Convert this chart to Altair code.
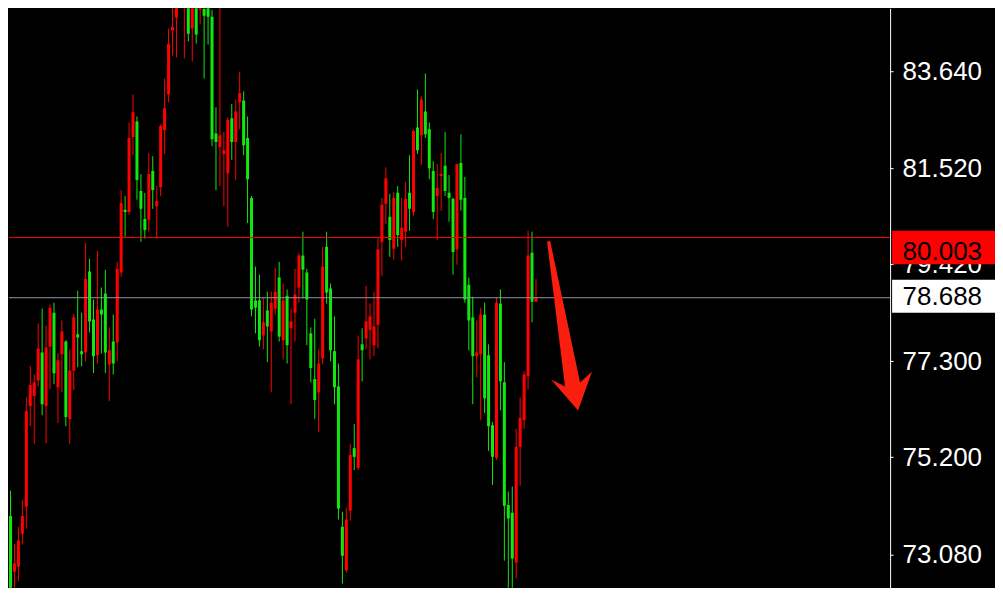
import altair as alt
import pandas as pd

# Candle OHLC values (index 0 = leftmost candle)
open_ = [75.56, 73.92, 72.70, 72.81, 73.53, 74.12, 76.32, 76.54, 76.88, 77.49,
         76.32, 77.62, 78.36, 76.73, 77.45, 77.73, 76.04, 77.10, 77.89, 77.52,
         77.49, 79.26, 78.21, 77.43, 78.43, 78.78, 77.23, 77.73, 77.71, 79.24,
         80.61, 80.56, 82.20, 82.54, 81.02, 80.41, 80.39, 81.46, 80.69, 81.11,
         82.35, 83.13, 84.53, 84.81, 85.51, 85.35, 85.29, 84.57, 85.27, 84.98,
         85.00, 85.22, 84.83, 82.28, 81.98, 81.83, 81.41, 82.61, 82.09, 82.96,
         83.00, 82.18, 80.87, 78.63, 78.63, 77.86, 78.41, 77.95, 78.45, 79.13,
         77.76, 78.73, 78.02, 78.36, 78.91, 79.61, 79.24, 77.91, 76.91, 76.62,
         77.36, 79.80, 78.89, 77.52, 76.75, 73.68, 72.73, 74.03, 75.40, 74.97,
         77.67, 77.80, 77.99, 77.65, 78.10, 79.91, 80.74, 80.46, 79.76, 80.98,
         79.95, 80.13, 80.98, 80.56, 82.41, 82.24, 82.76, 82.37, 81.46, 80.91,
         81.35, 81.57, 80.98, 80.85, 79.74, 81.63, 80.87, 78.97, 78.26, 77.41,
         77.45, 78.32, 77.43, 75.90, 75.19, 78.56, 76.84, 74.16, 73.99, 72.90,
         75.43, 76.01, 76.97, 79.67, 78.60]
close = [73.81, 72.29, 72.88, 73.38, 73.92, 76.21, 76.78, 76.84, 77.58, 76.36,
         77.60, 78.47, 77.04, 77.32, 77.95, 76.08, 77.10, 78.26, 77.82, 77.45,
         79.10, 78.17, 77.41, 78.43, 78.32, 77.49, 77.54, 77.25, 79.32, 80.76,
         80.56, 82.18, 82.74, 81.26, 80.63, 80.17, 81.39, 81.04, 80.80, 82.44,
         82.83, 84.24, 84.61, 85.29, 85.83, 85.61, 84.46, 85.24, 84.44, 85.09,
         84.85, 84.83, 82.15, 82.09, 82.24, 81.91, 82.57, 82.09, 82.76, 83.16,
         82.02, 81.28, 78.43, 78.47, 77.76, 78.15, 78.06, 78.58, 78.82, 77.84,
         78.63, 77.65, 78.17, 78.76, 79.61, 79.30, 78.65, 77.15, 76.45, 77.25,
         79.37, 78.80, 77.54, 76.73, 74.08, 73.05, 73.84, 75.25, 75.21, 77.34,
         77.54, 78.17, 78.28, 78.06, 79.74, 80.72, 81.30, 79.95, 80.87, 80.06,
         80.22, 80.85, 80.63, 82.33, 81.91, 83.02, 82.26, 81.52, 80.56, 81.09,
         81.39, 81.02, 80.87, 79.69, 81.61, 80.83, 78.65, 78.19, 77.41, 77.49,
         78.32, 76.49, 75.88, 75.21, 78.58, 76.86, 74.14, 73.86, 72.99, 75.43,
         76.06, 77.01, 79.61, 78.60, 78.69]
high = [76.78, 74.47, 73.31, 73.68, 74.27, 76.51, 77.19, 77.01, 78.13, 78.45,
        78.08, 78.54, 78.58, 77.47, 78.19, 77.76, 77.56, 78.34, 78.84, 78.36,
        79.89, 79.54, 78.65, 79.71, 78.91, 79.30, 78.04, 78.32, 79.47, 81.04,
        80.91, 82.52, 83.13, 82.65, 81.39, 80.98, 81.85, 81.78, 81.13, 82.48,
        83.48, 84.57, 85.29, 85.40, 86.05, 85.94, 85.51, 85.40, 85.44, 85.24,
        85.22, 85.35, 84.98, 82.85, 85.29, 82.31, 82.63, 82.92, 83.02, 83.63,
        83.20, 82.65, 80.91, 79.37, 79.19, 78.69, 78.82, 78.82, 79.34, 79.47,
        79.00, 78.87, 78.45, 79.32, 79.67, 80.13, 79.32, 78.04, 78.23, 77.56,
        79.80, 80.13, 79.00, 78.28, 77.25, 74.01, 74.10, 75.49, 75.93, 77.86,
        78.02, 78.95, 78.56, 78.82, 80.00, 80.87, 81.54, 80.96, 81.00, 81.13,
        80.87, 81.22, 81.80, 82.37, 83.24, 83.09, 83.59, 82.52, 81.67, 81.61,
        81.85, 82.31, 81.37, 80.87, 81.61, 82.26, 81.33, 79.13, 78.71, 78.19,
        78.47, 78.58, 77.67, 75.97, 78.69, 78.87, 77.28, 74.45, 74.56, 75.82,
        76.51, 77.08, 80.15, 80.13, 79.10]
low = [73.68, 72.01, 72.01, 72.49, 73.29, 73.64, 75.88, 75.49, 76.75, 76.12,
       75.51, 76.69, 76.80, 75.95, 76.62, 75.88, 75.49, 76.67, 77.17, 77.19,
       77.30, 77.93, 77.04, 77.25, 77.47, 77.04, 76.43, 77.01, 77.30, 79.15,
       80.02, 80.50, 81.80, 80.83, 79.91, 79.98, 80.13, 80.63, 79.98, 80.91,
       81.83, 82.96, 83.98, 83.94, 85.35, 83.92, 84.29, 83.85, 84.24, 84.66,
       83.48, 84.22, 82.00, 81.04, 81.13, 80.69, 80.24, 81.70, 81.26, 82.37,
       81.80, 80.32, 78.28, 77.91, 77.62, 77.56, 77.28, 76.62, 78.32, 77.73,
       77.34, 77.25, 76.36, 77.73, 78.58, 78.67, 77.65, 76.84, 76.04, 75.75,
       77.23, 78.56, 77.30, 76.36, 73.84, 72.44, 72.68, 73.81, 74.92, 74.92,
       76.86, 77.56, 77.34, 77.41, 77.58, 79.17, 80.30, 79.58, 79.52, 79.80,
       79.50, 79.80, 80.15, 80.48, 81.83, 81.59, 82.18, 81.28, 80.41, 79.95,
       80.59, 80.91, 80.35, 79.19, 79.41, 80.59, 78.58, 77.54, 76.36, 76.95,
       76.01, 76.17, 75.34, 74.60, 75.14, 76.23, 72.94, 72.01, 72.18, 72.55,
       74.58, 75.82, 76.69, 78.15, 78.60]

tick_values = [73.08, 75.20, 77.30, 79.42, 81.52, 83.64]
line_prices = [80.003, 78.688]
line_labels = ["80.003", "78.688"]

# label boxes (top, bottom, text baseline) in price units
box_top = [80.15, 79.08]
box_bottom = [79.42, 78.36]
box_text_base = [79.52, 78.52]
box_fill = ["#ff0000", "#ffffff"]

arrow_x = [142.5]
arrow_y = [78.08]

RED = "#ff0000"
GREEN = "#10e810"

n = len(open_)
df = pd.DataFrame({
    "i": list(range(n)),
    "open": open_, "close": close, "high": high, "low": low,
})
df["dir"] = ["up" if c > o else "down" for o, c in zip(open_, close)]

W = 882
H = 580
xscale = alt.Scale(domain=[1.875, 222.375], nice=False, zero=False)
yscale = alt.Scale(domain=[72.3501, 85.0139], nice=False, zero=False)
color = alt.Color("dir:N", scale=alt.Scale(domain=["up", "down"], range=[RED, GREEN]), legend=None)

yaxis = alt.Axis(
    orient="right", values=tick_values, labelExpr="format(datum.value, '.3f')",
    title=None, grid=False, domainColor="#ffffff", domainWidth=1,
    tickColor="#ffffff", tickSize=3, tickWidth=1, labelColor="#ffffff",
    labelFont="Liberation Sans", labelFontSize=26, labelPadding=9,
    labelOverlap=False, labelBaseline="middle", zindex=0,
)


def Y(field):
    return alt.Y(field, scale=yscale, axis=yaxis, title=None)


base = alt.Chart(df)
wicks = base.mark_rule(strokeWidth=1, clip=True).encode(
    x=alt.X("i:Q", scale=xscale, axis=None),
    y=Y("low:Q"),
    y2="high:Q",
    color=color,
)
bodies = base.mark_bar(size=3, clip=True).encode(
    x=alt.X("i:Q", scale=xscale, axis=None),
    y=Y("open:Q"),
    y2="close:Q",
    color=color,
)

lines_df = pd.DataFrame({"p": line_prices, "c": [RED, "#8e96a6"]})
hlines = alt.Chart(lines_df).mark_rule(strokeWidth=1).encode(
    y=Y("p:Q"),
    color=alt.Color("c:N", scale=None, legend=None),
)

arrow_df = pd.DataFrame({"x": arrow_x, "y": arrow_y})
arrow_path = ("M -0.265 -0.988 L -0.229 -1.0 L 0.124 0.671 L 0.265 0.541 "
              "L 0.1 1.0 L -0.218 0.635 L -0.053 0.718 Z")
arrow = alt.Chart(arrow_df).mark_point(
    shape=arrow_path, size=28900, filled=True, color="#fa1e0e", opacity=1, strokeWidth=0
).encode(
    x=alt.X("x:Q", scale=xscale, axis=None),
    y=Y("y:Q"),
)

box_df = pd.DataFrame({"t": box_top, "b": box_bottom, "base": box_text_base,
                       "fill": box_fill, "label": line_labels})
boxes = alt.Chart(box_df).mark_rect().encode(
    x=alt.value(884), x2=alt.value(987),
    y=Y("t:Q"), y2="b:Q",
    color=alt.Color("fill:N", scale=None, legend=None),
)
box_text = alt.Chart(box_df).mark_text(
    align="left", baseline="alphabetic", font="Liberation Sans", fontSize=26, color="#000000"
).encode(
    x=alt.value(894.5),
    y=Y("base:Q"),
    text="label:N",
)

chart = alt.layer(wicks, bodies, hlines, arrow, boxes, box_text).properties(
    width=W, height=H, padding=0, background="#000000"
).configure_view(stroke=None)

chart.save("out.html", embed_options={"renderer": "svg", "actions": False})
